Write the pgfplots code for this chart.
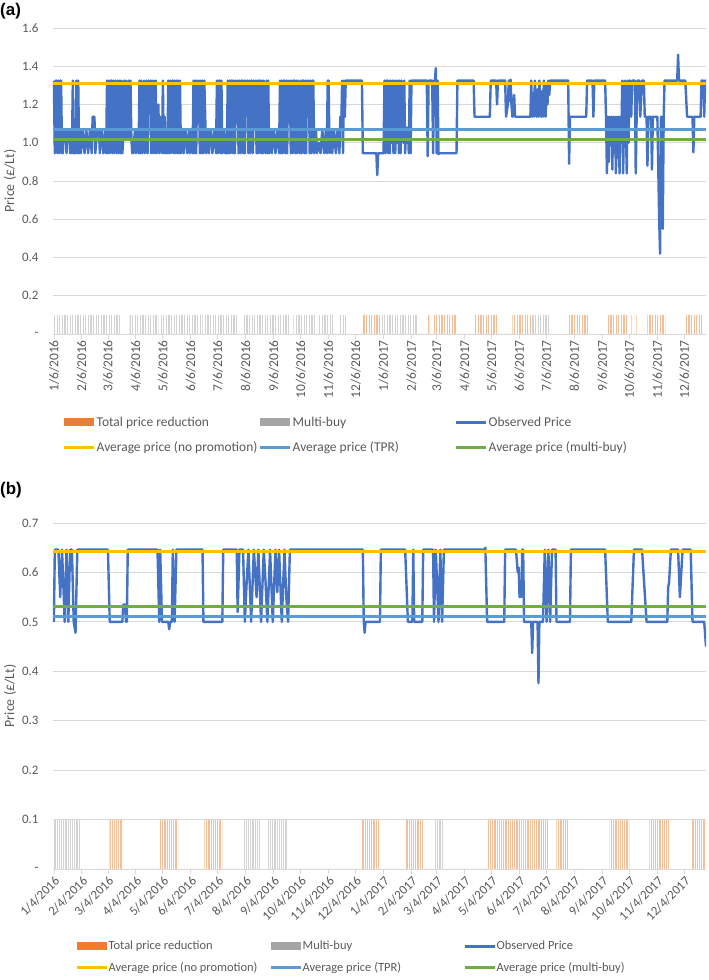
\documentclass[border=0pt]{standalone}
\usepackage{pgfplots}
\pgfplotsset{compat=1.18}
\usepackage{fontspec}
\setmainfont{Carlito}
\newfontfamily\boldlab{Liberation Sans}
\usetikzlibrary{patterns.meta}
\definecolor{obsblue}{HTML}{4472C4}
\definecolor{avgyellow}{HTML}{FFC000}
\definecolor{avgltblue}{HTML}{5B9BD5}
\definecolor{avggreen}{HTML}{70AD47}
\definecolor{legorange}{HTML}{ED7D31}
\definecolor{leggray}{HTML}{A5A5A5}
\definecolor{stripeorange}{HTML}{F6BE98}
\definecolor{stripegray}{HTML}{D3D3D3}
\definecolor{gridgray}{HTML}{D9D9D9}
\definecolor{textgray}{HTML}{595959}

\pgfplotsset{
  promo/.style={
    scale only axis, width=653bp, anchor=south west,
    xmin=-1, xmax=724, ymin=0,
    axis x line*=bottom, axis y line*=left,
    x axis line style={draw=gridgray, line width=0.8bp},
    y axis line style={draw=none},
    ymajorgrids, grid style={draw=gridgray, line width=0.8bp},
    tick align=outside, major tick length=5bp,
    xtick style={draw=gridgray, line width=0.8bp},
    ytick style={draw=none},
    xtick={0,31,60,91,121,152,182,213,244,274,305,335,366,397,425,456,486,517,547,578,609,639,670,700},
    every tick label/.append style={text=textgray},
    yticklabel style={xshift=-6bp, font=\fontsize{13}{15}\selectfont},
    ylabel={Price (£/Lt)},
    every axis y label/.style={at={(axis description cs:-0.066,0.5)}, rotate=90, anchor=center, font=\fontsize{14}{16}\selectfont, text=textgray},
    legend columns=3,
    legend cell align=left,
    legend style={draw=none, fill=none, inner sep=0pt, row sep=11bp, column sep=0bp,
      text=textgray, nodes={inner sep=1.5bp}},
  },
  barleg/.style={legend image code/.code={\fill[#1] (0bp,-4bp) rectangle (30bp,4bp);}},
  lineleg/.style={legend image code/.code={\draw[line width=3bp,#1] (0bp,0bp) -- (30bp,0bp);}},
}

\begin{document}
\begin{tikzpicture}
\useasboundingbox (0,0) rectangle (709bp,980bp);
\node[font=\boldlab\bfseries\fontsize{17}{20}\selectfont, anchor=west, inner sep=0pt] at (0bp,969bp) {(a)};
\node[font=\boldlab\bfseries\fontsize{17}{20}\selectfont, anchor=west, inner sep=0pt] at (0bp,490bp) {(b)};

% ---------------- Panel (a) ----------------
\begin{axis}[promo,
  at={(53bp,646bp)}, height=306bp, ymax=1.6,
  ytick={0,0.2,0.4,0.6,0.8,1.0,1.2,1.4,1.6},
  yticklabels={{-\hspace{7bp}},0.2,0.4,0.6,0.8,1.0,1.2,1.4,1.6},
  xticklabels={1/6/2016,2/6/2016,3/6/2016,4/6/2016,5/6/2016,6/6/2016,7/6/2016,8/6/2016,9/6/2016,10/6/2016,11/6/2016,12/6/2016,1/6/2017,2/6/2017,3/6/2017,4/6/2017,5/6/2017,6/6/2017,7/6/2017,8/6/2017,9/6/2017,10/6/2017,11/6/2017,12/6/2017},
  xticklabel style={rotate=90, anchor=east, inner sep=1bp, font=\fontsize{13.5}{15}\selectfont},
  legend style={at={(axis description cs:0.0138,-0.265)}, anchor=north west, font=\fontsize{13.5}{16}\selectfont},
]
\addplot[ybar interval, draw=none, pattern={Lines[angle=90,distance=2.6bp,line width=1.1bp]}, pattern color=stripeorange, barleg={legorange}]
coordinates {(343,0.1)(364,0)(415,0.1)(417,0)(421,0.1)(447,0)(467,0.1)(493,0)(509,0.1)(531,0)(572,0.1)(593,0)(615,0.1)(637,0)(641,0.1)(643,0)(645,0.1)(647,0)(659,0.1)(679,0)(700,0.1)(720,0)};
\addlegendentry{\makebox[160bp][l]{Total price reduction}}
\addplot[ybar interval, draw=none, pattern={Lines[angle=90,distance=2.6bp,line width=1.1bp]}, pattern color=stripegray, barleg={leggray}]
coordinates {(0,0.1)(75,0)(84,0.1)(116,0)(118,0.1)(165,0)(168,0.1)(204,0)(209,0.1)(262,0)(266,0.1)(290,0)(293,0.1)(310,0)(317,0.1)(325,0)(364,0.1)(403,0)(531,0.1)(551,0)};
\addlegendentry{\makebox[160bp][l]{Multi-buy}}
\addplot[obsblue, line width=2.4bp, line join=round, lineleg={obsblue}] coordinates {
(0,1.325)(1,0.945)(2,1.325)(3,1.325)(4,0.945)(5,1.325)(6,0.945)(7,1.325)(8,1.325)(9,0.945)
(10,0.945)(11,1.07)(13,1.07)(14,0.945)(15,1.07)(17,1.07)(18,0.945)(19,1.07)(20,0.945)
(21,1.325)(22,0.945)(24,0.945)(25,1.325)(26,0.945)(27,1.325)(28,0.945)(29,1.07)(30,0.945)
(32,1.07)(34,0.945)(36,1.07)(38,0.945)(40,1.07)(42,0.945)(43,1.136)(45,1.136)(46,0.945)(48,1.07)(50,1.07)(51,0.945)(53,1.07)(55,0.945)(57,1.07)(58,0.945)
(59,1.325)(60,0.945)(61,1.325)(62,0.945)(63,1.325)(64,1.325)(65,0.945)(66,1.325)(67,0.945)(68,1.325)(69,1.2)(70,0.945)(71,1.325)(72,0.945)(73,1.325)(74,0.945)(75,1.325)(76,0.945)
(77,1.025)(78,1.325)(79,1.025)(80,1.325)(81,1.025)(82,1.025)(83,1.325)(84,1.025)(85,1.325)(86,1.025)(87,0.945)
(88,0.945)(90,1.07)(91,0.945)(93,1.07)(94,0.945)
(95,1.325)(96,0.945)(97,1.325)(98,0.945)(100,1.325)(101,0.945)(103,1.325)(104,0.945)(105,1.325)(106,1.2)(107,1.325)(108,0.945)(109,1.325)(110,0.945)(111,1.325)(112,0.945)(113,1.325)(114,0.945)
(115,1.136)(116,1.2)(117,0.945)(118,1.136)(119,1.07)(120,0.945)(121,1.325)(122,0.945)(123,1.136)(124,0.945)(125,1.07)(126,0.945)
(127,1.325)(128,0.945)(129,1.325)(130,0.945)(131,1.325)(132,1.325)(133,0.945)(134,1.325)(135,0.945)(136,1.325)(137,0.945)(138,1.325)(139,0.945)(140,1.325)(141,0.945)
(143,1.07)(144,0.945)(146,1.07)(148,0.945)(150,1.07)(151,0.945)(153,1.07)(154,0.945)
(155,1.325)(156,0.945)(157,1.325)(158,0.945)(159,1.325)(160,1.136)(161,1.325)(162,0.945)(163,1.325)(164,0.945)(165,1.325)(166,0.945)(167,1.325)(168,1.136)(169,0.945)
(171,1.07)(172,0.945)(174,1.07)(176,0.945)(178,1.07)(180,0.945)
(181,1.325)(182,0.945)(183,1.325)(184,1.325)(185,0.945)(186,1.325)(187,0.945)
(189,1.07)(190,0.945)(192,0.945)
(193,1.325)(194,0.945)(195,1.325)(196,0.945)(197,1.325)(198,1.325)(199,0.945)(200,1.325)(201,0.945)(202,1.325)(203,1.136)(204,1.325)(205,0.945)(206,1.325)(207,0.945)(208,1.325)(209,1.325)(210,0.945)(211,1.325)(212,0.945)(213,1.325)(214,1.2)(215,1.325)(216,0.945)(217,1.325)(218,0.945)(219,1.325)(220,1.325)(221,0.945)(222,1.325)(223,1.07)(224,1.325)(225,0.945)(226,1.325)(227,0.945)(228,1.325)(229,1.325)(230,0.945)(231,1.325)(232,0.945)(233,1.325)(234,1.136)(235,0.945)(236,1.325)(237,0.945)(238,1.325)(239,0.945)
(241,1.07)(242,0.945)(244,1.07)(246,0.945)(248,1.07)(250,0.945)
(251,1.325)(252,0.945)(253,1.325)(254,0.945)(255,1.325)(256,1.325)(257,0.945)(258,1.325)(259,0.945)(260,1.325)(261,1.2)(262,1.325)(263,0.945)(264,1.325)(265,0.945)(266,1.325)(267,1.325)(268,0.945)(269,1.325)(270,0.945)(271,1.325)(272,1.07)(273,0.945)(274,1.325)(275,0.945)(276,1.325)(277,1.325)(278,0.945)(279,1.325)(280,0.945)(281,1.325)(282,1.136)(283,1.325)(284,0.945)(285,1.325)(286,0.945)(287,1.325)(288,1.325)(289,0.945)
(291,1.07)(292,0.945)(294,1.0)(296,0.945)(298,1.07)(300,0.945)(302,1.07)(303,0.945)
(304,1.325)(305,1.325)(306,0.945)
(308,1.07)(309,0.945)(311,1.07)(313,0.945)(315,1.07)(317,0.945)
(318,1.136)(319,1.07)(320,1.325)(321,0.945)(322,1.325)(323,1.136)(324,1.325)(325,1.325)
(342,1.325)(343,0.945)(358,0.945)(359,0.83)(360,0.945)(366,0.945)
(367,1.325)(368,0.945)(369,1.325)(370,1.325)(371,0.945)(372,1.325)(373,0.945)(374,1.325)(375,1.0)(376,1.325)(377,0.945)(378,1.325)(379,0.945)(380,1.325)(381,1.0)(382,1.325)(383,0.945)(384,1.325)(385,0.945)(386,1.325)(387,1.07)(388,1.0)(389,1.325)(390,0.945)(391,1.08)(392,1.0)(393,1.08)(394,0.945)(395,1.325)(396,0.945)(397,1.325)(398,1.325)
(414,1.325)(415,0.93)(416,1.325)
(418,1.325)(419,1.325)(420,1.325)(421,0.945)(422,1.325)(423,1.325)(424,1.39)(425,0.945)(426,1.325)(427,0.94)(428,0.945)
(447,0.945)(448,1.325)(466,1.325)(467,1.136)(484,1.136)(485,1.325)
(491,1.325)(492,1.2)(493,1.325)(501,1.325)(502,1.136)(504,1.2)(505,1.325)(506,1.22)(507,1.33)(508,1.2)(509,1.136)(511,1.25)(512,1.136)(513,1.136)
(529,1.136)
(530,1.325)(531,1.136)(532,1.26)(533,1.136)(534,1.325)(535,1.2)(536,1.136)(537,1.28)(538,1.136)(539,1.325)(540,1.2)(541,1.136)(542,1.27)(543,1.136)(544,1.325)(545,1.22)(546,1.136)(547,1.3)(548,1.2)(549,1.325)(550,1.25)(551,1.325)
(571,1.325)(572,0.89)(573,1.136)(591,1.136)(592,1.325)(598,1.325)(599,1.136)(600,1.325)(612,1.325)
(613,1.136)(614,0.84)(615,1.136)(616,0.9)(617,1.136)(618,1.0)(619,1.136)(620,0.86)(621,1.136)(622,0.95)(623,1.136)(624,0.84)(625,1.136)(626,0.92)(627,1.136)(628,0.84)(629,1.136)(630,1.0)(631,1.325)(632,0.84)(633,1.136)(634,1.325)(635,1.1)(636,0.84)(637,1.325)(638,1.0)(639,1.325)(640,1.325)(641,1.136)(642,1.325)(645,1.325)(646,0.84)(647,1.136)
(648,1.325)(650,1.325)(651,1.136)(653,1.325)(655,1.325)(656,1.136)(658,1.136)(659,0.88)(660,1.136)(663,1.136)(664,0.86)(665,1.136)(670,1.136)(672,0.6)(673,0.42)(674,1.136)(675,1.136)(676,0.55)(677,1.136)(678,1.325)
(692,1.325)(693,1.46)(694,1.325)(701,1.325)(703,1.136)(707,1.136)(709,1.136)(710,0.95)(711,1.136)(718,1.136)(719,1.325)(721,1.325)(722,1.136)(723,1.325)(724,1.325)
};
\addlegendentry{Observed Price}
\addplot[avgyellow, line width=3bp, lineleg={avgyellow}] coordinates {(-1,1.311)(724,1.311)};
\addlegendentry{\makebox[160bp][l]{Average price (no promotion)}}
\addplot[avgltblue, line width=3bp, lineleg={avgltblue}] coordinates {(-1,1.070)(724,1.070)};
\addlegendentry{\makebox[160bp][l]{Average price (TPR)}}
\addplot[avggreen, line width=3bp, lineleg={avggreen}] coordinates {(-1,1.018)(724,1.018)};
\addlegendentry{Average price (multi-buy)}
\end{axis}

% ---------------- Panel (b) ----------------
\begin{axis}[promo,
  at={(53bp,111bp)}, height=346bp, ymax=0.7,
  ytick={0,0.1,0.2,0.3,0.4,0.5,0.6,0.7},
  yticklabels={{-\hspace{7bp}},0.1,0.2,0.3,0.4,0.5,0.6,0.7},
  xticklabels={1/4/2016,2/4/2016,3/4/2016,4/4/2016,5/4/2016,6/4/2016,7/4/2016,8/4/2016,9/4/2016,10/4/2016,11/4/2016,12/4/2016,1/4/2017,2/4/2017,3/4/2017,4/4/2017,5/4/2017,6/4/2017,7/4/2017,8/4/2017,9/4/2017,10/4/2017,11/4/2017,12/4/2017},
  xticklabel style={rotate=45, anchor=north east, inner sep=1bp, font=\fontsize{13}{15}\selectfont},
  legend style={at={(axis description cs:0.0337,-0.207)}, anchor=north west, font=\fontsize{12.5}{15}\selectfont, row sep=9.5bp, nodes={inner sep=0.5bp}},
]
\addplot[ybar interval, draw=none, pattern={Lines[angle=90,distance=2.2bp,line width=1.1bp]}, pattern color=stripeorange, barleg={legorange}]
coordinates {(62,0.1)(76,0)(118,0.1)(138,0)(167,0.1)(187,0)(342,0.1)(362,0)(391,0.1)(410,0)(481,0.1)(518,0)(523,0.1)(549,0)(558,0.1)(571,0)(617,0.1)(639,0)(661,0.1)(684,0)(708,0.1)(724,0)};
\addlegendentry{\makebox[160bp][l]{Total price reduction}}
\addplot[ybar interval, draw=none, pattern={Lines[angle=90,distance=2.2bp,line width=1.1bp]}, pattern color=stripegray, barleg={leggray}]
coordinates {(0,0.1)(29,0)(211,0.1)(229,0)(237,0.1)(259,0)(423,0.1)(432,0)(518,0.1)(523,0)};
\addlegendentry{\makebox[160bp][l]{Multi-buy}}
\addplot[obsblue, line width=2.4bp, line join=round, lineleg={obsblue}] coordinates {
(0,0.5)(1,0.646)(5,0.646)(7,0.55)(9,0.646)(12,0.5)(14,0.646)(16,0.5)(18,0.646)(20,0.646)(22,0.5)(24,0.478)(26,0.646)(28,0.646)
(60,0.646)(62,0.5)(76,0.5)(77,0.535)(79,0.535)(80,0.5)(81,0.5)(82,0.646)
(115,0.646)(117,0.5)(118,0.646)(120,0.5)(127,0.5)(128,0.485)(129,0.5)(131,0.5)
(132,0.646)(134,0.5)(136,0.646)
(165,0.646)(166,0.5)(187,0.5)(188,0.646)(203,0.646)
(204,0.52)(206,0.646)(210,0.646)(212,0.5)(214,0.58)(216,0.646)(219,0.5)(222,0.646)(225,0.55)(227,0.646)(230,0.5)(233,0.646)(235,0.58)(237,0.5)(240,0.646)(243,0.5)(246,0.646)(248,0.56)(250,0.646)(253,0.5)(256,0.646)(258,0.55)(260,0.5)(262,0.646)
(343,0.646)(344,0.5)(345,0.478)(346,0.5)(362,0.5)(363,0.646)
(390,0.646)(393,0.5)(398,0.5)(399,0.646)(400,0.5)(409,0.5)(410,0.646)(421,0.646)
(422,0.5)(424,0.646)(427,0.5)(429,0.646)(431,0.5)(433,0.646)
(478,0.646)(479,0.65)(481,0.5)(500,0.5)(501,0.646)(513,0.646)
(515,0.6)(516,0.61)(517,0.55)(518,0.58)(519,0.55)(520,0.646)(521,0.646)(522,0.5)
(530,0.5)(531,0.437)(532,0.5)(537,0.5)(538,0.376)(539,0.5)(543,0.5)(545,0.646)(547,0.5)(549,0.646)(551,0.5)(553,0.646)(557,0.646)(558,0.5)(573,0.5)(574,0.646)
(612,0.646)(615,0.5)(641,0.5)(644,0.646)(653,0.646)(658,0.5)(681,0.5)(682,0.57)(683,0.58)(685,0.646)
(693,0.646)(695,0.55)(698,0.646)(707,0.646)(709,0.5)(722,0.5)(724,0.45)
};
\addlegendentry{Observed Price}
\addplot[avgyellow, line width=3bp, lineleg={avgyellow}] coordinates {(-1,0.642)(724,0.642)};
\addlegendentry{\makebox[160bp][l]{Average price (no promotion)}}
\addplot[avgltblue, line width=3bp, lineleg={avgltblue}] coordinates {(-1,0.511)(724,0.511)};
\addlegendentry{\makebox[160bp][l]{Average price (TPR)}}
\addplot[avggreen, line width=3bp, lineleg={avggreen}] coordinates {(-1,0.532)(724,0.532)};
\addlegendentry{Average price (multi-buy)}
\end{axis}
\end{tikzpicture}
\end{document}
